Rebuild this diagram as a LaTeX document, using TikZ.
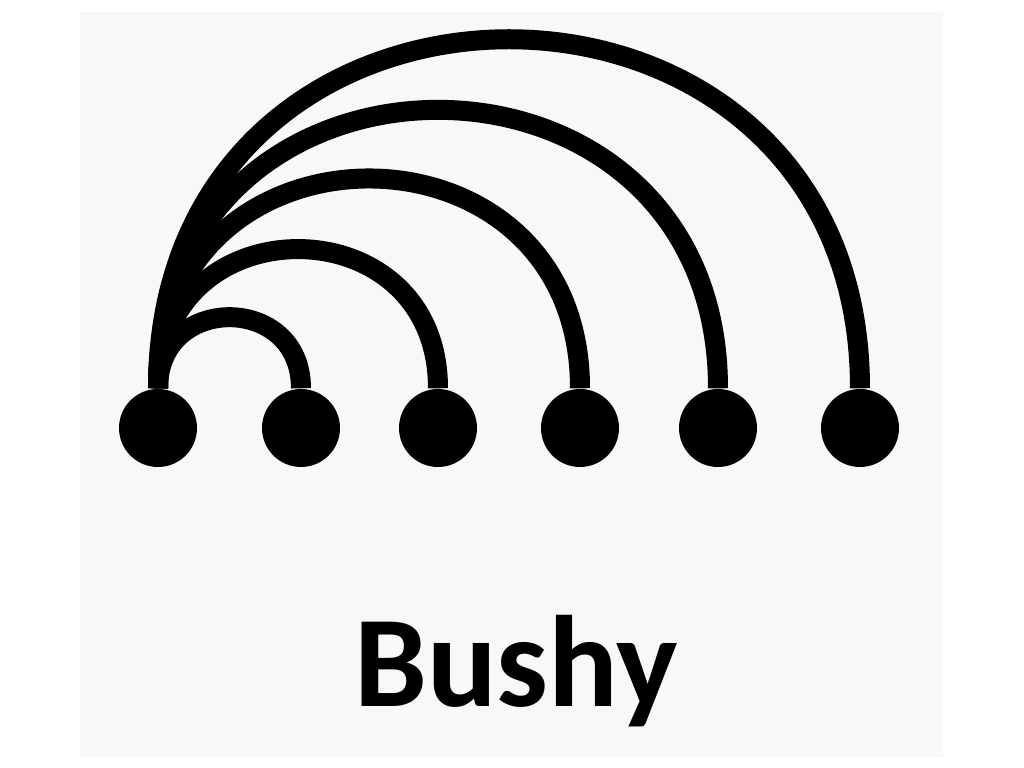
\documentclass[tikz,border=0pt]{standalone}
\usepackage{fontspec}
\setmainfont{Carlito}
\usepackage{tikz}
\usetikzlibrary{positioning,calc}
\usepackage{xcolor}
\definecolor{panelc}{HTML}{F8F8F8}

\begin{document}
\begin{tikzpicture}[
  joint/.style={circle, fill=black, minimum size=7.8mm, inner sep=0pt},
  link/.style={line width=2mm, black, out=90, in=90, looseness=1.7},
  caption/.style={font=\fontsize{37}{40}\selectfont\bfseries, anchor=base}
]
\useasboundingbox (0,0) rectangle (10.24,7.68);
% ---- Panel background ----
\fill[panelc] (0.80,0.11) rectangle (9.43,7.56);
% ---- Row of joints ----
\foreach \i/\x in {1/1.58,2/3.01,3/4.38,4/5.80,5/7.18,6/8.60}{
  \node[joint] (J\i) at (\x,3.40) {};
}
% ---- Every link starts at the first joint ----
\foreach \i in {2,...,6}{
  \draw[link] (J1.north) to (J\i.north);
}
\node[caption] (T) at (5.16,0.61) {Bushy};
\end{tikzpicture}
\end{document}
